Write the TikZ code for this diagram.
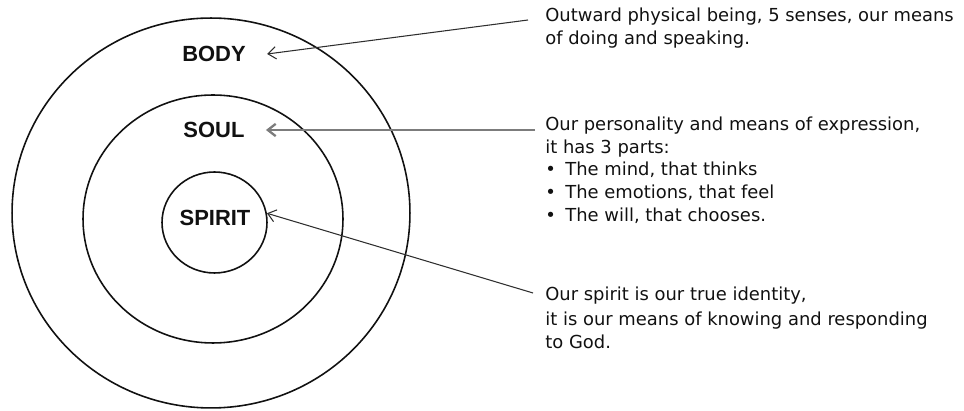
\documentclass[tikz,border=0pt]{standalone}
\usepackage{fontspec}
\setmainfont{DejaVu Sans}
\newfontfamily\labelfont{Liberation Sans}
\usepackage{xcolor}
\usetikzlibrary{arrows.meta,positioning,shapes.geometric}
\definecolor{ink}     {HTML}{111111}
\definecolor{wire}    {HTML}{2E2E2E}
\definecolor{greywire}{HTML}{7C7C7C}

\begin{document}
\begin{tikzpicture}[x=0.02cm,y=-0.02cm,
    ring/.style={draw=ink, line width=0.9pt, ellipse, inner sep=0pt},
    part/.style={font=\labelfont\bfseries\fontsize{12.5}{14}\selectfont, text=ink,
                 inner xsep=12pt, inner ysep=0pt},
    note/.style={anchor=north west, align=left, inner sep=0pt, text=ink,
                 font=\fontsize{10.2}{12.9}\selectfont},
    link/.style={draw=wire, line width=0.6pt, -{Straight Barb[length=4.5pt,width=7pt]}}]
  \useasboundingbox (0,0) rectangle (964,411);
  % the three rings
  \node[ring, minimum width=7.96cm, minimum height=7.8cm] (bodyring)   at (211,213) {};
  \node[ring, minimum width=5.2cm,  minimum height=4.96cm] (soulring)  at (213,219) {};
  \node[ring, minimum width=2.1cm,  minimum height=2.02cm] (spiritring) at (214.5,222.5) {};
  \node[part] (body)   at (214,54)  {BODY};
  \node[part] (soul)   at (214,130) {SOUL};
  \node[part] (spirit) at (215,218) {SPIRIT};
  % notes on the right
  \node[note] (bodynote) at (545,7.5)
    {Outward physical being, 5 senses, our means\\of doing and speaking.};
  \node[note] (soulnote) at (545,116.5)
    {Our personality and means of expression,\\it has 3 parts:\\
     \makebox[11.4pt][l]{\textbullet}The mind, that thinks\\
     \makebox[11.4pt][l]{\textbullet}The emotions, that feel\\
     \makebox[11.4pt][l]{\textbullet}The will, that chooses.};
  \node[note] (spiritnote) at (545,286.5)
    {Our spirit is our true identity,\\[1.5pt]
     it is our means of knowing and responding\\to God.};
  \coordinate (bodytail)   at (528,20);
  \coordinate (soultail)   at (535,130);
  \coordinate (spirittail) at (533,293);
  \draw[link] (bodytail) -- (body.east);
  \draw[link, draw=greywire, line width=1.3pt] (soultail) -- (soul.east);
  \draw[link] (spirittail) -- (spiritring.10);
\end{tikzpicture}
\end{document}
